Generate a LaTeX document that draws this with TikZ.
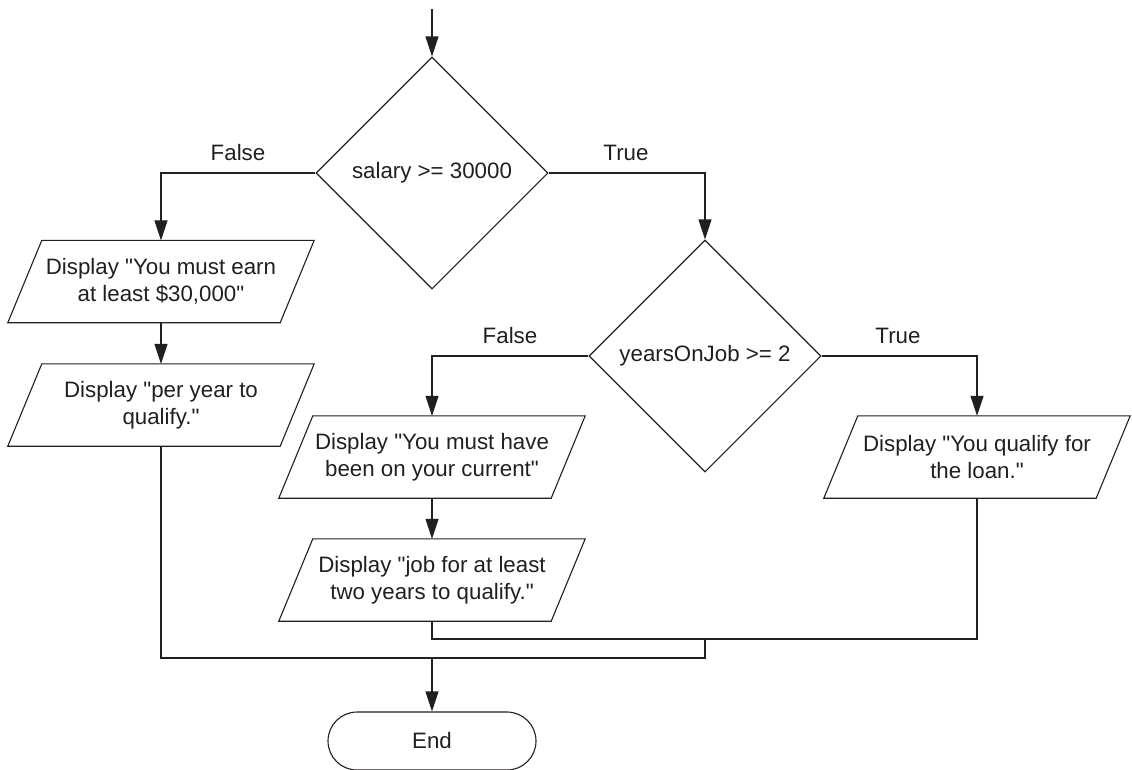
\documentclass[tikz,border=0pt]{standalone}
\usepackage{fontspec}
\setmainfont{Liberation Sans}[Ligatures=TeXOff]
\usetikzlibrary{shapes.geometric,arrows.meta}
\definecolor{ink}{HTML}{231F20}
\tikzset{
  base/.style={line width=1.1pt, draw=ink, text=ink},
  every node/.style={font=\fontsize{22.3}{27}\selectfont, text=ink, align=center},
  decision/.style={shape=diamond, draw=ink, line width=1.1pt, minimum width=232pt, minimum height=232pt, inner sep=0pt, aspect=1},
  iobox/.style={shape=rectangle, draw=none, minimum width=272pt, minimum height=82pt, inner sep=0pt},
  terminal/.style={shape=rectangle, draw=ink, line width=1.1pt, rounded corners=29pt, minimum width=208pt, minimum height=58pt, inner sep=0pt},
  arr/.style={base, -{Triangle[length=20pt,width=13pt]}},
  lbl/.style={inner sep=0pt}
}
\begin{document}
\begin{tikzpicture}[x=1pt,y=-1pt]
\useasboundingbox (0,0) rectangle (1132,769);
\fill[white] (0,0) rectangle (1132,769);

\coordinate (start) at (432,9);
\node[decision] (d1) at (432,173) {salary >= 30000};
\node[decision] (d2) at (705,356) {yearsOnJob >= 2};
\node[iobox] (p1) at (161,281.5) {Display "You must earn\\at least \$30,000"};
\node[iobox] (p2) at (161,405) {Display "per year to\\qualify."};
\node[iobox] (p3) at (432,457) {Display "You must have\\been on your current"};
\node[iobox] (p4) at (432,580) {Display "job for at least\\two years to qualify."};
\node[iobox] (p5) at (977,457) {Display "You qualify for\\the loan."};
\node[terminal] (end) at (432,741) {End};

\foreach \n in {p1,p2,p3,p4,p5}
  \draw[base] ([xshift=-17pt]\n.south west) -- ([xshift=-17pt]\n.south east)
     -- ([xshift=17pt]\n.north east) -- ([xshift=17pt]\n.north west) -- cycle;

\node[lbl] (f1) at (238,153) {False};
\node[lbl] (t1) at (626,153) {True};
\node[lbl] (f2) at (510,336) {False};
\node[lbl] (t2) at (898,336) {True};

\coordinate (m1) at (705,639);
\coordinate (m2) at (432,658);

\draw[arr] (start) -- (d1.north);
\draw[arr] (d1.west) -| (p1.north);
\draw[arr] (d1.east) -| (d2.north);
\draw[arr] (p1.south) -- (p2.north);
\draw[arr] (d2.west) -| (p3.north);
\draw[arr] (d2.east) -| (p5.north);
\draw[arr] (p3.south) -- (p4.north);
\draw[base] (p4.south) |- (m1);
\draw[base] (p5.south) |- (m1);
\draw[base] (m1) |- (m2);
\draw[base] (p2.south) |- (m2);
\draw[arr] (m2) -- (end.north);
\end{tikzpicture}
\end{document}
